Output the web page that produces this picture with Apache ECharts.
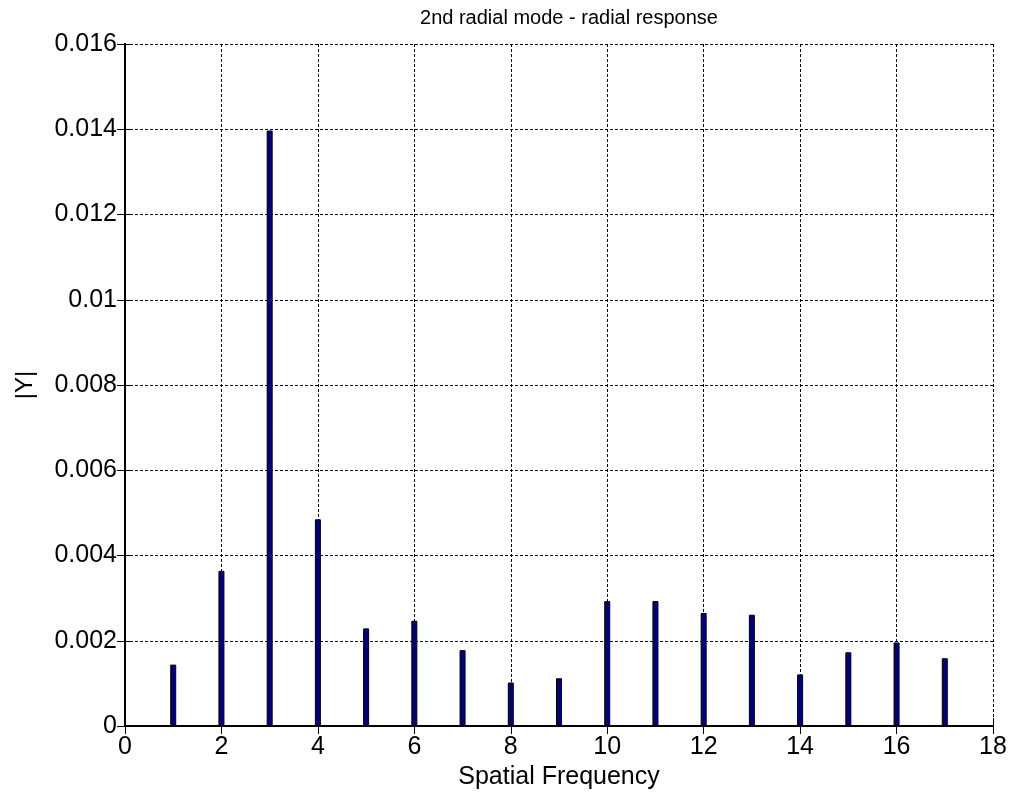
<!DOCTYPE html>
<html><head><meta charset="utf-8">
<script src="https://cdn.jsdelivr.net/npm/echarts@6/dist/echarts.min.js"></script>
<style>html,body{margin:0;padding:0;background:#fff}#c{width:1012px;height:803px}</style>
</head><body><div id="c"></div>
<script>
var freqs = [1,2,3,4,5,6,7,8,9,10,11,12,13,14,15,16,17];
var mags = [0.00144,0.00364,0.01397,0.00485,0.00229,0.00247,0.00178,0.00102,0.00112,0.00293,0.00293,0.00265,0.00261,0.00121,0.00173,0.00196,0.00159];
var xTicks = [0,2,4,6,8,10,12,14,16,18];
var yTicks = [0,0.002,0.004,0.006,0.008,0.01,0.012,0.014,0.016];
var titleText = '2nd radial mode - radial response';
var xName = 'Spatial Frequency';
var yName = '|Y|';

var data = freqs.map(function(f,i){return [f, mags[i]];});
var font = 'Liberation Sans, Arial, sans-serif';
var grid = {left:125, right:19, top:44, bottom:77};
var gridLine = {show:true, lineStyle:{color:'#000', type:[3,2], width:1}};
var chart = echarts.init(document.getElementById('c'), null, {renderer:'canvas'});
chart.setOption({
  animation:false,
  backgroundColor:'#fff',
  title:{text:titleText, left:564, textAlign:'center', top:3,
    textStyle:{fontFamily:font, fontSize:20, fontWeight:'normal', color:'#000'}},
  grid:grid,
  xAxis:[{
    type:'value', min:xTicks[0], max:xTicks[xTicks.length-1], interval:2,
    name:xName, nameLocation:'middle', nameGap:38,
    nameTextStyle:{fontFamily:font, fontSize:25, color:'#000'},
    axisLine:{show:true, onZero:false, lineStyle:{color:'#000', width:2}},
    axisTick:{show:true, inside:true, length:8, lineStyle:{color:'#000'}},
    axisLabel:{fontFamily:font, fontSize:25, color:'#000', margin:9},
    splitLine:gridLine
  },{
    type:'value', position:'top', min:xTicks[0], max:xTicks[xTicks.length-1], interval:2,
    axisLine:{show:true, lineStyle:{color:'#000', width:2}},
    axisTick:{show:true, inside:true, length:8, lineStyle:{color:'#000'}},
    axisLabel:{show:false}, splitLine:{show:false}
  }],
  yAxis:[{
    type:'value', min:yTicks[0], max:yTicks[yTicks.length-1], interval:0.002,
    name:yName, nameLocation:'middle', nameGap:88,
    nameTextStyle:{fontFamily:font, fontSize:24, color:'#000'},
    axisLine:{show:true, onZero:false, lineStyle:{color:'#000', width:2}},
    axisTick:{show:true, inside:true, length:8, lineStyle:{color:'#000'}},
    axisLabel:{fontFamily:font, fontSize:25, color:'#000', margin:8,
      formatter:function(v){return String(parseFloat(v.toFixed(6)));}},
    splitLine:gridLine
  },{
    type:'value', position:'right', min:yTicks[0], max:yTicks[yTicks.length-1], interval:0.002,
    axisLine:{show:true, lineStyle:{color:'#000', width:2}},
    axisTick:{show:true, inside:true, length:8, lineStyle:{color:'#000'}},
    axisLabel:{show:false}, splitLine:{show:false}
  }],
  series:[{
    type:'bar', data:data, barWidth:6, xAxisIndex:0, yAxisIndex:0,
    itemStyle:{color:'#000080', borderColor:'#000', borderWidth:1}
  }]
});
</script></body></html>
